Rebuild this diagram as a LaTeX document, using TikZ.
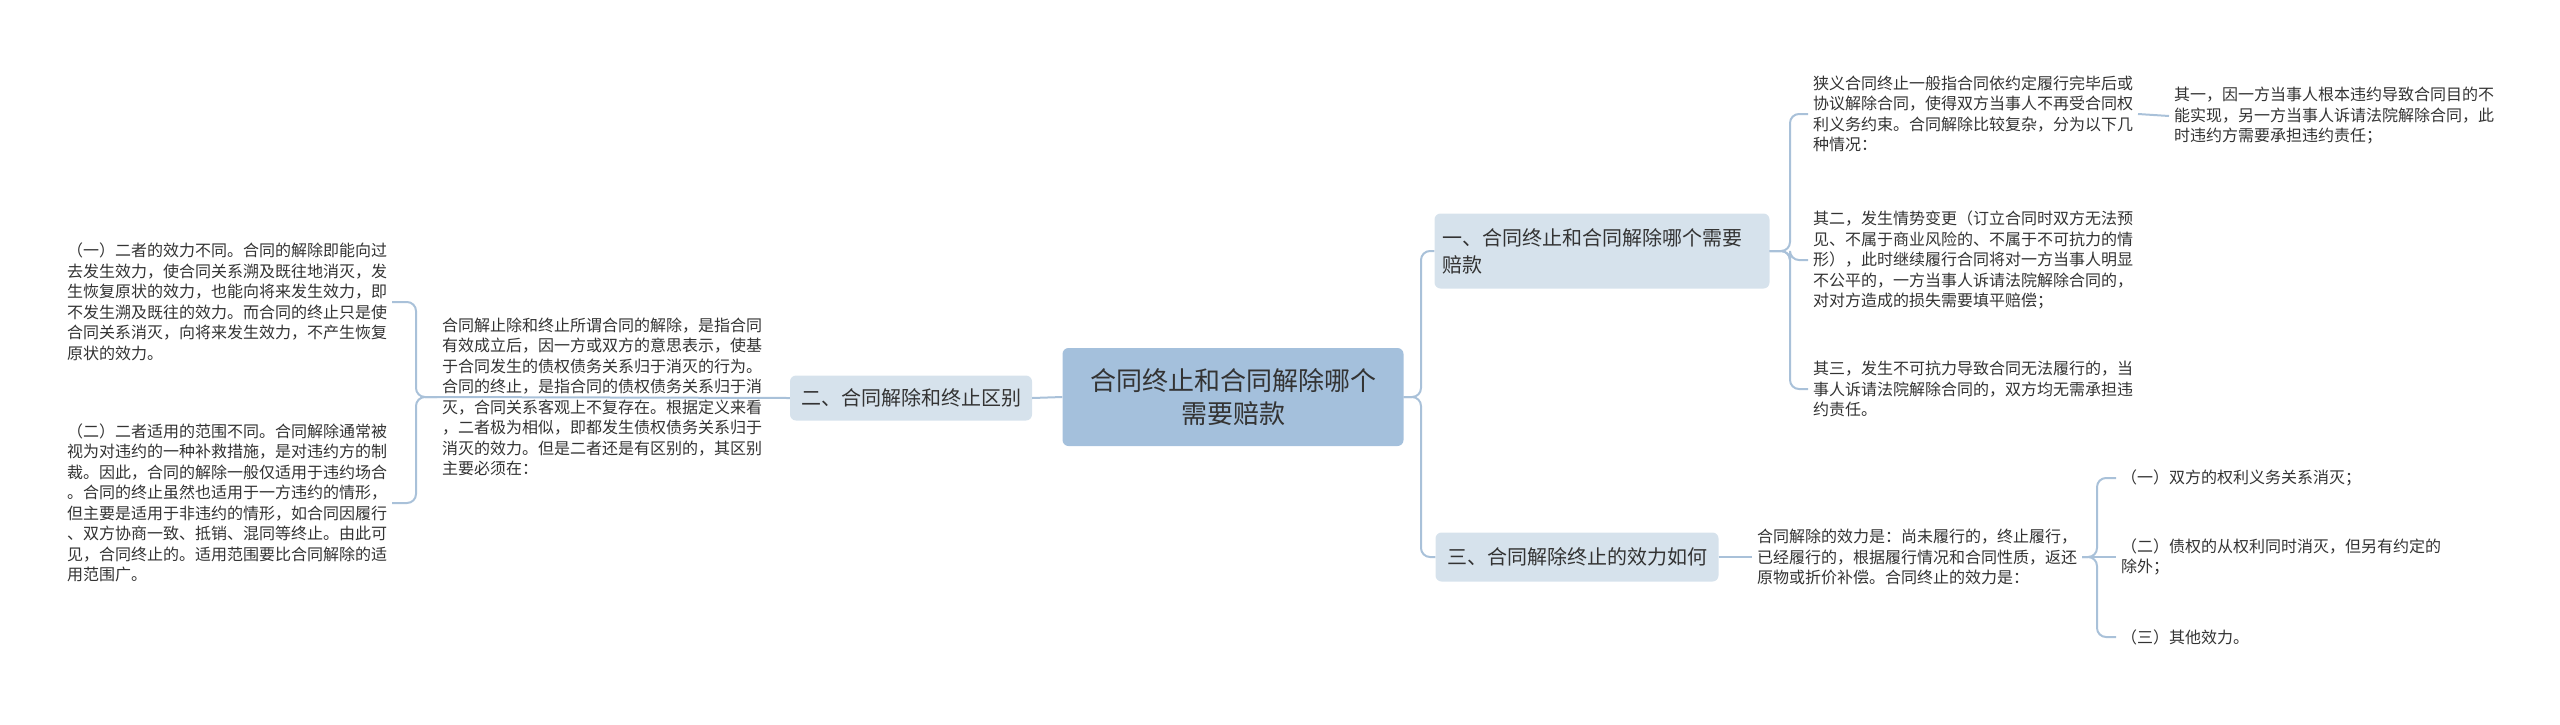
\documentclass[tikz,border=0pt]{standalone}
\usepackage{fontspec}
\newfontfamily\cjk{Noto Sans CJK SC}
\definecolor{linec}{HTML}{A9C1D9}
\definecolor{rootc}{HTML}{A4C0DC}
\definecolor{branchc}{HTML}{D6E2EC}
\definecolor{txtc}{HTML}{333333}
\tikzset{
  conn/.style={draw=linec,line width=2pt,rounded corners=9pt},
  leaf/.style={font=\cjk\fontsize{16}{20.5}\selectfont,text=txtc,align=left,inner sep=0pt,outer sep=5pt,anchor=west},
  leafr/.style={leaf,anchor=east},
  branch/.style={fill=branchc,rounded corners=6pt,font=\cjk\fontsize{20}{27}\selectfont,text=txtc,align=left,inner xsep=8pt,inner ysep=0pt},
  root/.style={fill=rootc,rounded corners=6pt,font=\cjk\fontsize{26}{33}\selectfont,text=txtc,align=center,minimum width=341pt,minimum height=98pt,inner sep=0pt}
}
\begin{document}
\begin{tikzpicture}[x=1pt,y=-1pt]
\useasboundingbox (0,0) rectangle (2560,724);
\node[root] (c) at (1233,397) {合同终止和合同解除哪个\\需要赔款};
\node[branch,minimum width=242pt,minimum height=45pt] (b2) at (911,398) {二、合同解除和终止区别};
\node[branch,minimum width=335pt,minimum height=75pt,text width=319pt] (b1) at (1602,251) {一、合同终止和合同解除哪个需要\\赔款};
\node[branch,minimum width=283pt,minimum height=49pt] (b3) at (1577,557) {三、合同解除终止的效力如何};

% left side
\node[leaf] (m2) at (437,397) {合同解止除和终止所谓合同的解除，是指合同\\有效成立后，因一方或双方的意思表示，使基\\于合同发生的债权债务关系归于消灭的行为。\\合同的终止，是指合同的债权债务关系归于消\\灭，合同关系客观上不复存在。根据定义来看\\，二者极为相似，即都发生债权债务关系归于\\消灭的效力。但是二者还是有区别的，其区别\\主要必须在：};
\node[leafr] (l1) at (392,302) {（一）二者的效力不同。合同的解除即能向过\\去发生效力，使合同关系溯及既往地消灭，发\\生恢复原状的效力，也能向将来发生效力，即\\不发生溯及既往的效力。而合同的终止只是使\\合同关系消灭，向将来发生效力，不产生恢复\\原状的效力。};
\node[leafr] (l2) at (392,503) {（二）二者适用的范围不同。合同解除通常被\\视为对违约的一种补救措施，是对违约方的制\\裁。因此，合同的解除一般仅适用于违约场合\\。合同的终止虽然也适用于一方违约的情形，\\但主要是适用于非违约的情形，如合同因履行\\、双方协商一致、抵销、混同等终止。由此可\\见，合同终止的。适用范围要比合同解除的适\\用范围广。};

% right side branch 1
\node[leaf] (t1) at (1808,114) {狭义合同终止一般指合同依约定履行完毕后或\\协议解除合同，使得双方当事人不再受合同权\\利义务约束。合同解除比较复杂，分为以下几\\种情况：};
\node[leaf] (t11) at (2169,116) {其一，因一方当事人根本违约导致合同目的不\\能实现，另一方当事人诉请法院解除合同，此\\时违约方需要承担违约责任；};
\node[leaf] (t2) at (1808,260) {其二，发生情势变更（订立合同时双方无法预\\见、不属于商业风险的、不属于不可抗力的情\\形），此时继续履行合同将对一方当事人明显\\不公平的，一方当事人诉请法院解除合同的，\\对对方造成的损失需要填平赔偿；};
\node[leaf] (t3) at (1808,389) {其三，发生不可抗力导致合同无法履行的，当\\事人诉请法院解除合同的，双方均无需承担违\\约责任。};

% branch 3
\node[leaf] (s) at (1752,557) {合同解除的效力是：尚未履行的，终止履行，\\已经履行的，根据履行情况和合同性质，返还\\原物或折价补偿。合同终止的效力是：};
\node[leaf] (s1) at (2116,478) {（一）双方的权利义务关系消灭；};
\node[leaf] (s2) at (2116,557) {（二）债权的从权利同时消灭，但另有约定的\\除外；};
\node[leaf] (s3) at (2116,637) {（三）其他效力。};

% connectors
\draw[conn] (c.east) -- (1421,397) |- (b1.west);
\draw[conn] (c.east) -- (1421,397) |- (b3.west);
\draw[conn] (c.west) -- (b2.east);
\draw[conn] (b2.west) -- (m2.west);
\draw[conn] (m2.west) -- (416,397) |- (l1.east);
\draw[conn] (m2.west) -- (416,397) |- (l2.east);
\draw[conn] (b1.east) -- (1790,251) |- (t1.west);
\draw[conn] (b1.east) -- (1790,251) |- (t2.west);
\draw[conn] (b1.east) -- (1790,251) |- (t3.west);
\draw[conn] (t1.east) -- (t11.west);
\draw[conn] (b3.east) -- (s.west);
\draw[conn] (s.east) -- (2097,557) |- (s1.west);
\draw[conn] (s.east) -- (2097,557) |- (s3.west);
\draw[conn] (s.east) -- (s2.west);
\end{tikzpicture}
\end{document}
